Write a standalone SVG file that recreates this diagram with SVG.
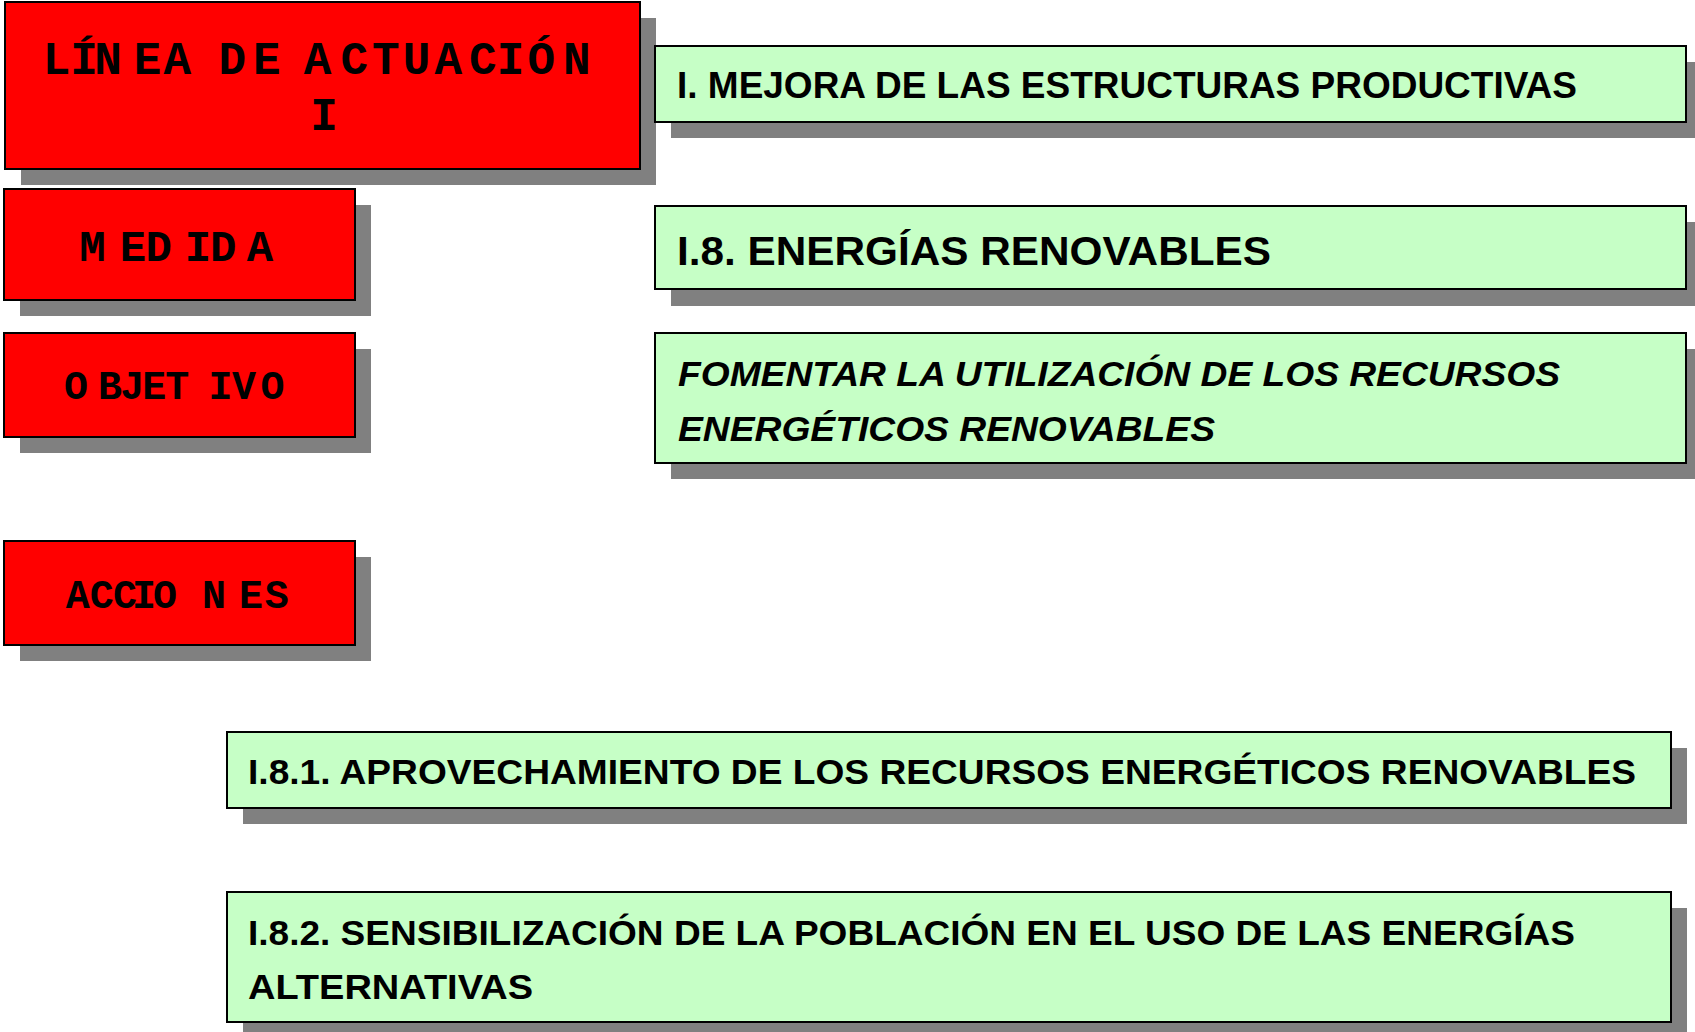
<svg xmlns="http://www.w3.org/2000/svg" width="1695" height="1032" viewBox="0 0 1695 1032">
<style>
.sh{fill:#808080}
.red{fill:#FF0000;stroke:#000;stroke-width:2}
.grn{fill:#C6FFC6;stroke:#000;stroke-width:2}
.rt{font-family:"Liberation Mono","Courier New",monospace;font-weight:bold;fill:#000}
.gt{font-family:"Liberation Sans",Arial,sans-serif;font-weight:bold;fill:#000}
.it{font-style:italic}
</style>
<rect width="1695" height="1032" fill="#fff"/>
<g id="shadows">
<rect class="sh" x="21" y="18" width="635" height="167"/>
<rect class="sh" x="20" y="205" width="351" height="111"/>
<rect class="sh" x="20" y="349" width="351" height="104"/>
<rect class="sh" x="20" y="557" width="351" height="104"/>
<rect class="sh" x="671" y="62" width="1031" height="76"/>
<rect class="sh" x="671" y="222" width="1031" height="84"/>
<rect class="sh" x="671" y="349" width="1031" height="130"/>
<rect class="sh" x="243" y="748" width="1444" height="76"/>
<rect class="sh" x="243" y="908" width="1444" height="130"/>
</g>
<g id="linea">
<rect class="red" x="5" y="2" width="635" height="167"/>
<text class="rt" font-size="46" y="74" x="42.8 70.2 94.3 133.8 163.5 191 218.5 252.9 280 303.8 340.4 372.1 402.7 434.4 468.9 496.7 527.4 562.9">LÍNEA DE ACTUACIÓN</text>
<text class="rt" x="324" y="130" font-size="46" text-anchor="middle">I</text>
</g>
<g id="medida">
<rect class="red" x="4" y="189" width="351" height="111"/>
<text class="rt" font-size="44" y="261" x="79.3 119.8 145.5 184.8 210.1 246.8">MEDIDA</text>
</g>
<g id="objetivo">
<rect class="red" x="4" y="333" width="351" height="104"/>
<text class="rt" font-size="40" y="399" x="64 98 120.3 142.3 165.3 208.5 232 260.5">OBJETIVO</text>
</g>
<g id="acciones">
<rect class="red" x="4" y="541" width="351" height="104"/>
<text class="rt" font-size="40" y="608" x="65.7 89.7 113 132 153 202 239 264.7">ACCIONES</text>
</g>
<g id="eje">
<rect class="grn" x="655" y="46" width="1031" height="76"/>
<text class="gt" x="677" y="98" font-size="36" textLength="900" lengthAdjust="spacingAndGlyphs">I. MEJORA DE LAS ESTRUCTURAS PRODUCTIVAS</text>
</g>
<g id="medida-texto">
<rect class="grn" x="655" y="206" width="1031" height="83"/>
<text class="gt" x="677" y="265" font-size="40" textLength="594" lengthAdjust="spacingAndGlyphs">I.8. ENERGÍAS RENOVABLES</text>
</g>
<g id="objetivo-texto">
<rect class="grn" x="655" y="333" width="1031" height="130"/>
<text class="gt it" x="678" y="386" font-size="35" textLength="882" lengthAdjust="spacingAndGlyphs">FOMENTAR LA UTILIZACIÓN DE LOS RECURSOS</text>
<text class="gt it" x="678" y="441" font-size="35" textLength="537" lengthAdjust="spacingAndGlyphs">ENERGÉTICOS RENOVABLES</text>
</g>
<g id="accion-1">
<rect class="grn" x="227" y="732" width="1444" height="76"/>
<text class="gt" x="248" y="784" font-size="35" textLength="1388" lengthAdjust="spacingAndGlyphs">I.8.1. APROVECHAMIENTO DE LOS RECURSOS ENERGÉTICOS RENOVABLES</text>
</g>
<g id="accion-2">
<rect class="grn" x="227" y="892" width="1444" height="130"/>
<text class="gt" x="248" y="945" font-size="35" textLength="1327" lengthAdjust="spacingAndGlyphs">I.8.2. SENSIBILIZACIÓN DE LA POBLACIÓN EN EL USO DE LAS ENERGÍAS</text>
<text class="gt" x="248" y="999" font-size="35" textLength="285" lengthAdjust="spacingAndGlyphs">ALTERNATIVAS</text>
</g>
</svg>
